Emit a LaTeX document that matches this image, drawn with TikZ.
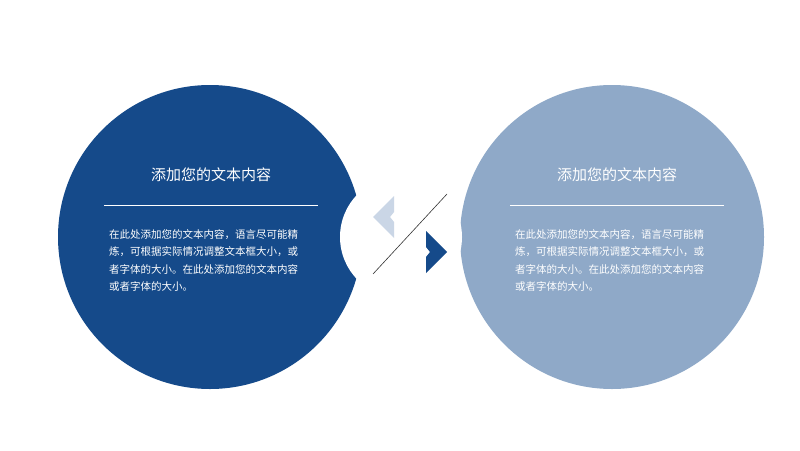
\documentclass[tikz,border=0pt]{standalone}
\usepackage{fontspec}
\setmainfont{Noto Sans CJK SC}
\definecolor{dk}{HTML}{154A8A}
\definecolor{lt}{HTML}{8FA9C8}
\definecolor{pl}{HTML}{CAD6E6}
\begin{document}
\begin{tikzpicture}[x=1pt,y=-1pt,
  ttl/.style={text=white,font=\fontsize{15}{17}\selectfont},
  body/.style={text=white,font=\fontsize{10.5}{17.5}\selectfont,align=left,anchor=north west,inner sep=0pt}]
\useasboundingbox (0,0) rectangle (800,450);
\fill[dk] (210,237) circle (152);
\fill[lt] (612,237) circle (152);
\fill[white] (401,237) circle (61);
\fill[pl] (373,217)--(394,196)--(394,212)--(390,217)--(394,222)--(394,238)--cycle;
\fill[dk] (447,252)--(426,231)--(426,247)--(430,252)--(426,257)--(426,273)--cycle;
\coordinate (la) at (373,274); \coordinate (lb) at (447,194);
\draw[line width=0.6pt,black!80] (la)--(lb);
\node[ttl] (t1) at (211,175) {添加您的文本内容};
\node[ttl] (t2) at (617,175) {添加您的文本内容};
\draw[white,line width=0.6pt] (104,205)--(318,205);
\draw[white,line width=0.6pt] (510,205)--(724,205);
\node[body] (b1) at (109,229) {在此处添加您的文本内容，语言尽可能精\\炼，可根据实际情况调整文本框大小，或\\者字体的大小。在此处添加您的文本内容\\或者字体的大小。};
\node[body] (b2) at (515,229) {在此处添加您的文本内容，语言尽可能精\\炼，可根据实际情况调整文本框大小，或\\者字体的大小。在此处添加您的文本内容\\或者字体的大小。};
\end{tikzpicture}
\end{document}
